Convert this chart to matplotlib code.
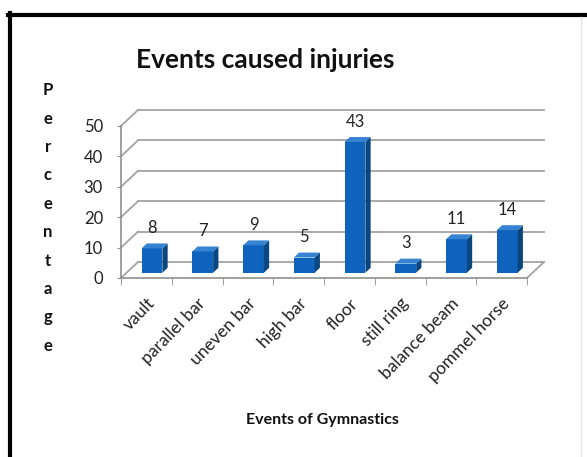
import numpy as np
import matplotlib
matplotlib.use("Agg")
import matplotlib.pyplot as plt
from matplotlib.lines import Line2D

events = ["vault", "parallel bar", "uneven bar", "high bar",
          "floor", "still ring", "balance beam", "pommel horse"]
percent = [8, 7, 9, 5, 43, 3, 11, 14]
yticks = [0, 10, 20, 30, 40, 50]

W, H = 587, 457
plt.rcParams["font.family"] = ["Lato", "DejaVu Sans"]

fig = plt.figure(figsize=(W / 100, H / 100), dpi=100)
fig.patch.set_facecolor("white")

# plot area in pixels (front face of the 3d box)
L, R, B, T = 121, 527, 278, 126
ax = fig.add_axes([L / W, 1 - B / H, (R - L) / W, (B - T) / H])
n = len(events)
ax.set_xlim(-0.5, n - 0.5)
ax.set_ylim(0, 50)
ax.patch.set_alpha(0)

# depth offset of the back wall, in data units
px_x = (R - L) / n
px_y = (B - T) / 50
DX, DY = 17 / px_x, 16 / px_y

grid_c = "#a3a3a3"
for v in yticks:
    ax.plot([-0.5 + DX, n - 0.5 + DX], [v + DY, v + DY], color=grid_c, lw=1.3,
            clip_on=False, zorder=1)
    ax.plot([-0.5, -0.5 + DX], [v, v + DY], color=grid_c, lw=1.3,
            clip_on=False, zorder=1)
ax.plot([n - 0.5, n - 0.5 + DX], [0, DY], color=grid_c, lw=1.3, clip_on=False, zorder=1)

# bars
d0, d1, w = 0.33, 0.64, 0.41
front_c, side_c, top_c = "#0f63bd", "#0a467f", "#3583d2"
xs = np.arange(n)
ax.bar(xs + d0 * DX, percent, bottom=d0 * DY, width=w, color=front_c,
       zorder=3, clip_on=False)
for i, v in zip(xs, percent):
    xr0, xr1 = i + w / 2 + d0 * DX, i + w / 2 + d1 * DX
    xl0, xl1 = i - w / 2 + d0 * DX, i - w / 2 + d1 * DX
    y0, y1 = d0 * DY, d1 * DY
    ax.fill([xr0, xr1, xr1, xr0], [y0, y1, v + y1, v + y0], color=side_c,
            zorder=3, clip_on=False, lw=0)
    ax.fill([xl0, xr0, xr1, xl1], [v + y0, v + y0, v + y1, v + y1], color=top_c,
            zorder=3, clip_on=False, lw=0)
    ax.annotate(str(v), (i + d0 * DX, v + y0), xytext=(0, 14.5),
                textcoords="offset points", ha="center", va="center",
                fontsize=12, color="#222222", annotation_clip=False)

# axes
for s in ["top", "right"]:
    ax.spines[s].set_visible(False)
for s in ["left", "bottom"]:
    ax.spines[s].set_color("#8f8f8f")
    ax.spines[s].set_linewidth(1.2)
ax.set_yticks(yticks)
ax.tick_params(axis="y", length=3, color="#8f8f8f", labelsize=12,
               pad=10, labelcolor="#222222")
ax.set_xticks(xs)
ax.set_xticks(np.arange(-0.5, n), minor=True)
ax.tick_params(axis="x", which="major", length=0)
ax.tick_params(axis="x", which="minor", length=5, color="#8f8f8f")
ax.set_xticklabels([])
for i, name in zip(xs, events):
    ax.annotate(name, (i, 0), xytext=(4, -16.5), textcoords="offset points",
                ha="right", va="center", rotation=46, rotation_mode="anchor",
                fontsize=12.5, color="#222222", annotation_clip=False)

# titles
fig.text(265 / W, 1 - 60 / H, "Events caused injuries", ha="center", va="center",
         fontsize=19, fontweight="bold", color="#111111")
fig.text(322 / W, 1 - 420 / H, "Events of Gymnastics", ha="center", va="center",
         fontsize=11.5, fontweight="bold", color="#111111")
fig.text(48 / W, 1 - 218 / H, "\n".join("Percentage"), ha="center", va="center",
         fontsize=12, fontweight="bold", color="#111111", linespacing=1.95)

# outer frame
fig.add_artist(Line2D([8 / W, 1], [1 - 15 / H] * 2, transform=fig.transFigure,
                      color="black", lw=3))
fig.add_artist(Line2D([10 / W] * 2, [1 - 13 / H, 0], transform=fig.transFigure,
                      color="black", lw=3))
fig.add_artist(Line2D([581 / W] * 2, [1 - 17 / H, 0], transform=fig.transFigure,
                      color="#e4e4e4", lw=1))

fig.savefig("out.png", dpi=100, facecolor="white")
